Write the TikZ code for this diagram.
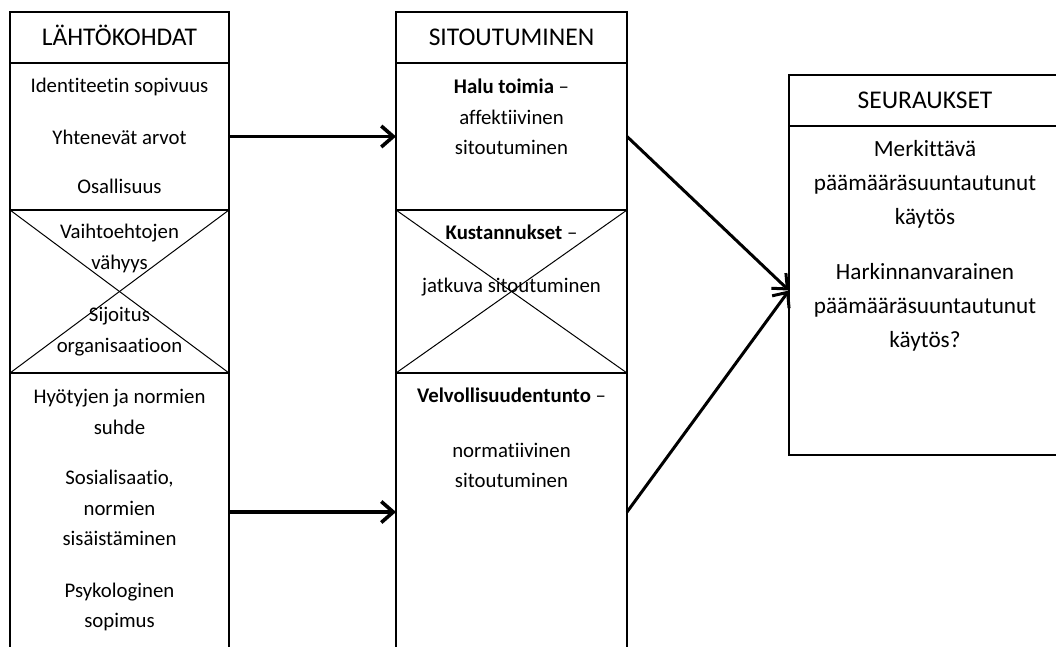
\documentclass[tikz,border=0pt]{standalone}
\usepackage{fontspec}
\setmainfont{Carlito}[Ligatures=NoCommon]
\usetikzlibrary{arrows.meta}
\tikzset{>={Straight Barb[length=12pt,width=21pt]}}
\newcommand{\headfont}{\fontsize{25.5}{30}\selectfont}
\newcommand{\bodyfont}{\fontsize{20.8}{30.5}\selectfont}
\newcommand{\bigbodyfont}{\fontsize{23.2}{34}\selectfont}

\begin{document}
\begin{tikzpicture}[x=1pt,y=-1pt,
  box/.style={draw,line width=1.1pt,inner sep=0pt,outer sep=0pt},
  headbox/.style={box,font=\headfont,text height=16.4pt,text depth=0pt,minimum height=51pt},
  txt/.style={font=\bodyfont,align=center,inner sep=0pt},
  bigtxt/.style={font=\bigbodyfont,align=center,inner sep=0pt},
  link/.style={->,line width=3.6pt},
  cross/.style={line width=1pt}]

\useasboundingbox (0,0) rectangle (1056,646);
\clip (0,0) rectangle (1056,646);

% Left column
\node[headbox,minimum width=219pt] (lhead) at (119.5,37.5) {LÄHTÖKOHDAT};
\node[box,minimum width=219pt,minimum height=147pt] (lsec1) at (119.5,136.5) {};
\node[box,minimum width=219pt,minimum height=163pt] (lsec2) at (119.5,291.5) {};
\node[box,minimum width=219pt,minimum height=278pt] (lsec3) at (119.5,512) {};

\node[txt] (ident) at (119.5,87) {Identiteetin sopivuus};
\node[txt] (arvot) at (119.5,137) {Yhtenevät arvot};
\node[txt] (osall) at (119.5,186) {Osallisuus};
\node[txt] (vaiht) at (119.5,248.5) {Vaihtoehtojen\\vähyys};
\node[txt] (sijoit) at (119.5,331.5) {Sijoitus\\organisaatioon};
\node[txt] (hyoty) at (119.5,412) {Hyötyjen ja normien\\suhde};
\node[txt] (sosial) at (119.5,508) {Sosialisaatio,\\normien\\sisäistäminen};
\node[txt] (psyk) at (119.5,607) {Psykologinen\\sopimus};

\draw[cross] (lsec2.north west) -- (lsec2.south east);
\draw[cross] (lsec2.south west) -- (lsec2.north east);

% Middle column
\node[headbox,minimum width=231pt] (mhead) at (511.5,37.5) {SITOUTUMINEN};
\node[box,minimum width=231pt,minimum height=147pt] (msec1) at (511.5,136.5) {};
\node[box,minimum width=231pt,minimum height=163pt] (msec2) at (511.5,291.5) {};
\node[box,minimum width=231pt,minimum height=278pt] (msec3) at (511.5,512) {};

\node[txt] (affekt) at (511.5,117) {\textbf{Halu toimia} –\\affektiivinen\\sitoutuminen};
\node[txt] (kust) at (511.5,232) {\textbf{Kustannukset} –};
\node[txt] (jatk) at (511.5,287) {jatkuva sitoutuminen};
\node[txt] (velv) at (511.5,395) {\textbf{Velvollisuudentunto} –};
\node[txt] (norm) at (511.5,465.5) {normatiivinen\\sitoutuminen};

\draw[cross] (msec2.north west) -- (msec2.south east);
\draw[cross] (msec2.south west) -- (msec2.north east);

% Right box
\node[headbox,minimum width=272pt] (rhead) at (925,100.5) {SEURAUKSET};
\node[box,minimum width=272pt,minimum height=329pt] (rbody) at (925,290.5) {};

\node[bigtxt] (merk) at (925,184.5) {Merkittävä\\päämääräsuuntautunut\\käytös};
\node[bigtxt] (hark) at (925,307.5) {Harkinnanvarainen\\päämääräsuuntautunut\\käytös?};

% Arrows
\draw[link] (lsec1.east) -- (msec1.west);
\draw[link] (lsec3.east) -- (msec3.west);
\draw[link,line width=3pt] (msec1.east) -- (rbody.west);
\draw[link,line width=3pt] (msec3.east) -- (rbody.west);

\end{tikzpicture}
\end{document}
